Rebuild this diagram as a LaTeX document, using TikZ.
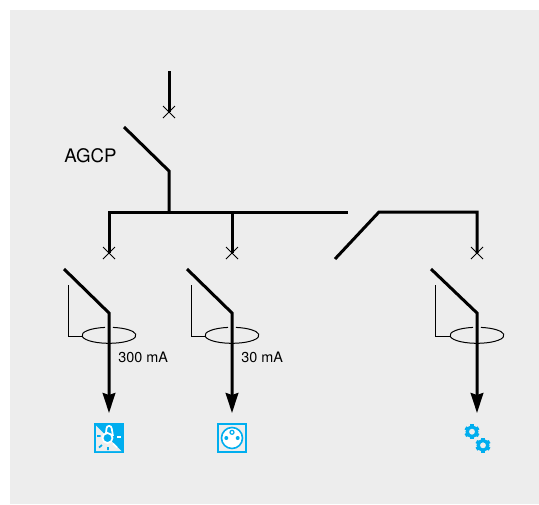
\documentclass[tikz,border=0pt]{standalone}
\usepackage{fontspec}
\setmainfont{TeX Gyre Heros}
\usetikzlibrary{calc, arrows.meta}
\definecolor{panel}{HTML}{EDEDED}
\definecolor{iconblue}{HTML}{00AEEF}
\tikzset{
	wire/.style = {line width=2.25pt, line join=miter},
	thinwire/.style = {line width=0.75pt},
	cross/.pic = {
		\draw [thinwire] (-6,-6) -- (6,6) (-6,6) -- (6,-6);
	},
	gear/.pic = {
		\foreach \a in {30,90,...,330}
			\draw [iconblue, line width=2.6pt] (\a:4.5) -- (\a:7.6);
		\draw [iconblue, line width=2.4pt] (0,0) circle (4.8);
	}
}

\begin{document}
\begin{tikzpicture}[x=0.75pt, y=-0.75pt]
			\useasboundingbox (0,0) rectangle (539,504);
			\fill [panel] (10,10) rectangle (539,504);

			% incoming feed and main breaker
			\coordinate (feedTop) at (169,71);
			\coordinate (feedEnd) at (169,112);
			\coordinate (agcpOpen) at (124,127);
			\coordinate (agcpPivot) at (169,171);
			\coordinate (agcpBus) at (169,212);
			\draw [wire] (feedTop) -- (feedEnd);
			\pic at (feedEnd) {cross};
			\draw [wire] (agcpOpen) -- (agcpPivot) -- (agcpBus);
			\node (agcpLabel) [anchor=west, inner sep=0pt, font=\fontsize{14}{16}\selectfont] at (64,156) {AGCP};

			% busbar
			\coordinate (busLeft) at (109,212);
			\coordinate (busRight) at (348,212);
			\coordinate (busOne) at (232,212);
			\coordinate (endOne) at (109,253);
			\coordinate (endTwo) at (232,253);
			\draw [wire] (endOne) -- (busLeft) -- (busRight);
			\draw [wire] (busOne) -- (endTwo);

			% open section on the right
			\coordinate (openLow) at (335,259);
			\coordinate (openHigh) at (379,212);
			\coordinate (openCorner) at (477,212);
			\coordinate (endThree) at (477,253);
			\draw [wire] (openLow) -- (openHigh) -- (openCorner) -- (endThree);

			% the three outgoing branches
			\foreach \i/\xb/\xs/\xo in {a/109/64/68, b/232/187/191, c/477/431/435} {
				\coordinate (top\i) at (\xb,253);
				\coordinate (open\i) at (\xs,269);
				\coordinate (pivot\i) at (\xb,313);
				\coordinate (load\i) at (\xb,413);
				\coordinate (senseTop\i) at (\xo,285);
				\coordinate (senseCorner\i) at (\xo,336);
				\coordinate (torus\i) at (\xb-27,336);
				\pic at (top\i) {cross};
				\draw [wire, -{Stealth[length=15pt, width=9.5pt, inset=1.5pt]}] (open\i) -- (pivot\i) -- (load\i);
				\draw [thinwire] (senseTop\i) -- (senseCorner\i) -- (torus\i);
				\draw [thinwire] (\xb-4,327.4) arc [start angle=261.5, end angle=-81.5, x radius=27, y radius=8];
			}
			\node (labelA) [anchor=west, inner sep=0pt, font=\fontsize{10.8}{12}\selectfont] at (118,357) {300 mA};
			\node (labelB) [anchor=west, inner sep=0pt, font=\fontsize{10.8}{12}\selectfont] at (241,357) {30 mA};

			% lamp icon
			\begin{scope}
				\fill [iconblue] (94,423) rectangle (124,453);
				\fill [panel] (96,425.5) -- (96,451) -- (121.5,451) -- cycle;
				\draw [white, line width=1.3pt, fill=iconblue] (107.5,438) circle (5);
				\draw [white, line width=1.3pt] (106,433) -- (106.5,428.5) arc [start angle=180, end angle=360, radius=2.6] -- (113,436);
				\draw [white, line width=1.3pt] (117,437) -- (121,437);
				\draw [iconblue, line width=1.3pt] (97,436) -- (100.5,436) (108,447) -- (108,450) (99,447.5) -- (102,445);
				\draw [white, line width=1.3pt] (113,443.5) -- (117,447.5);
			\end{scope}

			% socket icon
			\begin{scope}
				\draw [iconblue, line width=1.6pt] (218,424) rectangle (246,452);
				\draw [iconblue, line width=1.2pt, fill=white] (232,438) circle (10.5);
				\fill [iconblue] (226.3,438) circle (2) (237.7,438) circle (2);
				\draw [iconblue, line width=0.9pt] (232,432.3) circle (2);
			\end{scope}

			% gears icon
			\pic at (472,431.7) {gear};
			\pic at (483,445.3) {gear};
		\end{tikzpicture}
\end{document}
